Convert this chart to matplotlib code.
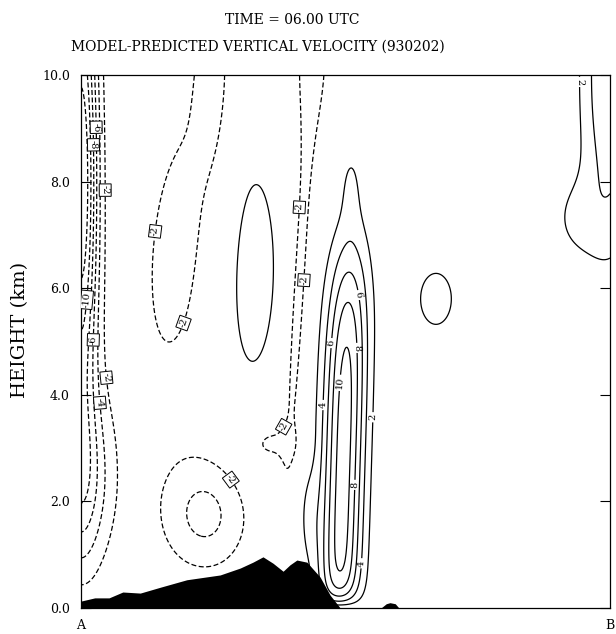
import numpy as np
import matplotlib
matplotlib.use("Agg")
import matplotlib.pyplot as plt
from matplotlib.ticker import FormatStrFormatter

plt.rcParams["font.family"] = ["DejaVu Serif"]
plt.rcParams["axes.unicode_minus"] = False

# Distance along A->B is a fraction (0..1), height in km.
# Vertical-velocity cells: centre, peak, spread, tilt
blob_x0 = [0.0, 0.0, 0.19, 0.25, 0.319, 0.435, 0.41, 0.36, 0.495, 0.51, 0.43, 0.237,
           0.671, 1.0, 0.935, 1.02]
blob_z0 = [8.0, 2.4, 6.9, 10.2, 6.5, 10.3, 5.8, 3.1, 2.5, 8.0, 1.7, 1.75,
           5.8, 10.0, 7.3, 3.05]
blob_amp = [-14, -6, -2.7, -2.4, 3.0, -2.4, -3.4, -3.0, 11.0, 1.8, 1.8, -4.6,
            2.4, 6.0, 2.0, -2.15]
blob_sx = [0.032, 0.06, 0.095, 0.035, 0.074, 0.05, 0.017, 0.045, 0.041, 0.02, 0.02, 0.085,
           0.068, 0.055, 0.055, 0.06]
blob_sz = [4.5, 1.7, 3.6, 2.0, 3.2, 1.8, 4.2, 0.35, 4.3, 0.8, 0.9, 1.1,
           1.12, 3.15, 0.85, 1.9]
blob_tilt = [0, 0, 0.01, 0, 0, 0, 0.006, 0, 0.003, 0, 0, 0,
             0, 0, 0, 0]
blob_pow = [2, 2, 2, 2, 2, 2, 2, 2, 4, 2, 2, 2,
            2, 2, 2, 2]
ground_depth = 0.25

levels = [-12, -10, -8, -6, -4, -2, 2, 4, 6, 8, 10, 12]

# terrain profile (black mountain) and the small hill further east
terrain_x = [0.0, 0.026, 0.053, 0.079, 0.112, 0.15, 0.20, 0.263, 0.301, 0.325, 0.344,
             0.363, 0.382, 0.395, 0.408, 0.427, 0.452, 0.471, 0.49]
terrain_z = [0.13, 0.19, 0.19, 0.30, 0.28, 0.39, 0.53, 0.62, 0.75, 0.86, 0.96,
             0.84, 0.69, 0.81, 0.90, 0.86, 0.58, 0.24, 0.0]
hill_x = [0.567, 0.577, 0.584, 0.594, 0.601]
hill_z = [0.0, 0.08, 0.10, 0.08, 0.0]

# where the contour labels sit
label_pos = [(0.030, 9.02), (0.023, 8.69), (0.042, 7.84), (0.013, 5.78), (0.025, 5.03),
             (0.047, 4.32), (0.036, 3.85), (0.121, 7.09), (0.215, 5.27), (0.408, 7.52),
             (0.423, 6.15), (0.378, 3.43), (0.282, 2.40),
             (0.524, 5.87), (0.474, 4.97), (0.522, 4.88), (0.495, 4.22), (0.452, 3.81),
             (0.548, 3.58), (0.520, 2.31), (0.529, 0.84), (0.938, 9.87)]

xs = np.linspace(0, 1, 500)
zs = np.linspace(0, 10, 400)
X, Z = np.meshgrid(xs, zs)
W = np.zeros_like(X)
for x0, z0, amp, sx, sz, tilt, pw in zip(blob_x0, blob_z0, blob_amp, blob_sx,
                                         blob_sz, blob_tilt, blob_pow):
    xc = x0 + tilt * (Z - z0)
    W += amp * np.exp(-((X - xc) / sx) ** 2 - np.abs((Z - z0) / sz) ** pw)
W *= 1 - np.exp(-Z / ground_depth)

fig = plt.figure(figsize=(6.16, 6.34), dpi=100)
ax = fig.add_axes([0.1315, 0.041, 0.8588, 0.8407])

styles = [(0, (4, 2)) if lv < 0 else "solid" for lv in levels]
cs = ax.contour(X, Z, W, levels=levels, colors="black", linewidths=0.9,
                linestyles=styles)
ax.clabel(cs, fmt=lambda v: f"{v:.0f}", fontsize=7, manual=label_pos,
          inline=True, inline_spacing=2)
for t in cs.labelTexts:
    if t.get_text().startswith("-"):
        t.set_bbox(dict(boxstyle="square,pad=0.15", fc="white", ec="black", lw=0.7))

ax.fill_between(terrain_x, 0, terrain_z, color="black", zorder=3, lw=0)
ax.fill_between(hill_x, 0, hill_z, color="black", zorder=3, lw=0)

ax.set_xlim(0, 1)
ax.set_ylim(0, 10)
ax.set_yticks([0, 2, 4, 6, 8, 10])
ax.yaxis.set_major_formatter(FormatStrFormatter("%.1f"))
ax.tick_params(axis="y", direction="in", length=7, width=0.8, right=True,
               labelsize=9, pad=8)
ax.set_xticks([0, 1])
ax.set_xticklabels(["A", "B"])
ax.tick_params(axis="x", length=0, labelsize=9, pad=8)
for s in ax.spines.values():
    s.set_linewidth(0.9)

fig.text(0.474, 0.968, "TIME = 06.00 UTC", ha="center", va="center", fontsize=10)
fig.text(0.419, 0.926, "MODEL-PREDICTED VERTICAL VELOCITY (930202)",
         ha="center", va="center", fontsize=10)
fig.text(0.032, 0.479, "HEIGHT (km)", rotation=90, ha="center", va="center",
         fontsize=14)

fig.savefig("out.png", dpi=100)
